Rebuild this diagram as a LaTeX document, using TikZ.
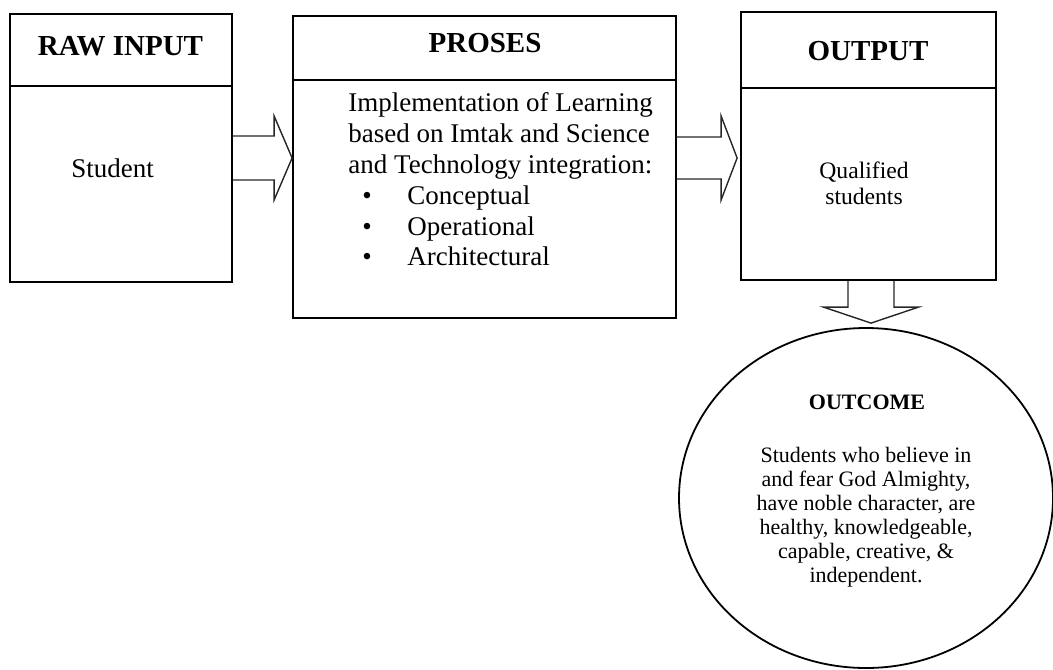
\documentclass[tikz,border=0pt]{standalone}
\usepackage{fontspec}
\setmainfont{Liberation Serif}
\usepackage{tikz}
\usetikzlibrary{calc,shapes.geometric}

\tikzset{
  box/.style={draw, line width=0.9pt, inner sep=0pt},
  headtext/.style={font=\fontsize{14.5}{16}\selectfont\bfseries, inner sep=0pt},
  bodytext/.style={font=\fontsize{13.5}{15.4}\selectfont, inner sep=0pt},
  blockarrow/.style={draw=black!85, line width=0.7pt, line join=miter},
}

\begin{document}
\begin{tikzpicture}[x=0.5pt,y=-0.5pt]
\useasboundingbox (0,0) rectangle (1053,669);
% boxes
\node[box, minimum width=111pt, minimum height=134pt] (rawbox) at (121,148) {};
\node[box, minimum width=191.5pt, minimum height=151pt] (proses) at (484.5,167) {};
\node[box, minimum width=127.5pt, minimum height=134pt] (outbox) at (868.5,146) {};
\node[draw, ellipse, line width=0.9pt, minimum width=187pt, minimum height=170pt] (outcome) at (866,498) {};
% header lines
\draw[line width=0.9pt] (rawbox.west |- 0,86) -- (rawbox.east |- 0,86);
\draw[line width=0.9pt] (proses.west |- 0,80) -- (proses.east |- 0,80);
\draw[line width=0.9pt] (outbox.west |- 0,88) -- (outbox.east |- 0,88);
% texts
\node[headtext] (rawtitle) at (120.5,46) {RAW INPUT};
\node[bodytext] (student) at (112.5,168) {Student};
\node[headtext] (prosestitle) at (485,43) {PROSES};
\node[bodytext, anchor=north west, align=left] (prosesbody) at (348,92.5)
  {Implementation of Learning\\
   based on Imtak and Science\\
   and Technology integration:\\
   \hspace*{7pt}\makebox[22.5pt][l]{\textbullet}Conceptual\\
   \hspace*{7pt}\makebox[22.5pt][l]{\textbullet}Operational\\
   \hspace*{7pt}\makebox[22.5pt][l]{\textbullet}Architectural};
\node[headtext] (outtitle) at (868,51.5) {OUTPUT};
\node[font=\fontsize{11.8}{13}\selectfont, align=center, inner sep=0pt] (qualified) at (864,183)
  {Qualified\\students};
\node[font=\fontsize{11}{12}\selectfont\bfseries, inner sep=0pt] (outcometitle) at (867,402) {OUTCOME};
\node[font=\fontsize{11}{12}\selectfont, align=center, inner sep=0pt] (outcometext) at (866,517)
  {Students who believe in\\
   and fear God Almighty,\\
   have noble character, are\\
   healthy, knowledgeable,\\
   capable, creative, \&\\
   independent.};
% block arrows
\coordinate (a1) at (rawbox.east |- 0,158);
\coordinate (t1) at (proses.west |- 0,158);
\draw[blockarrow] ($(a1)+(0,-22)$) -- ($(t1)+(-18,-22)$) -- ($(t1)+(-18,-42)$) -- (t1)
  -- ($(t1)+(-18,42)$) -- ($(t1)+(-18,22)$) -- ($(a1)+(0,22)$);
\coordinate (a2) at (proses.east |- 0,158);
\coordinate (t2) at ($(outbox.west |- 0,158)+(-3,0)$);
\draw[blockarrow] ($(a2)+(0,-21)$) -- ($(t2)+(-16,-21)$) -- ($(t2)+(-16,-42)$) -- (t2)
  -- ($(t2)+(-16,42)$) -- ($(t2)+(-16,21)$) -- ($(a2)+(0,21)$);
\coordinate (a3) at (outbox.south -| 871,0);
\coordinate (t3) at ($(a3 |- outcome.north)+(0,-4)$);
\draw[blockarrow] ($(a3)+(-23,0)$) -- ($(t3)+(-23,-16)$) -- ($(t3)+(-47.5,-16)$) -- (t3)
  -- ($(t3)+(47.5,-16)$) -- ($(t3)+(23,-16)$) -- ($(a3)+(23,0)$);
\end{tikzpicture}
\end{document}
